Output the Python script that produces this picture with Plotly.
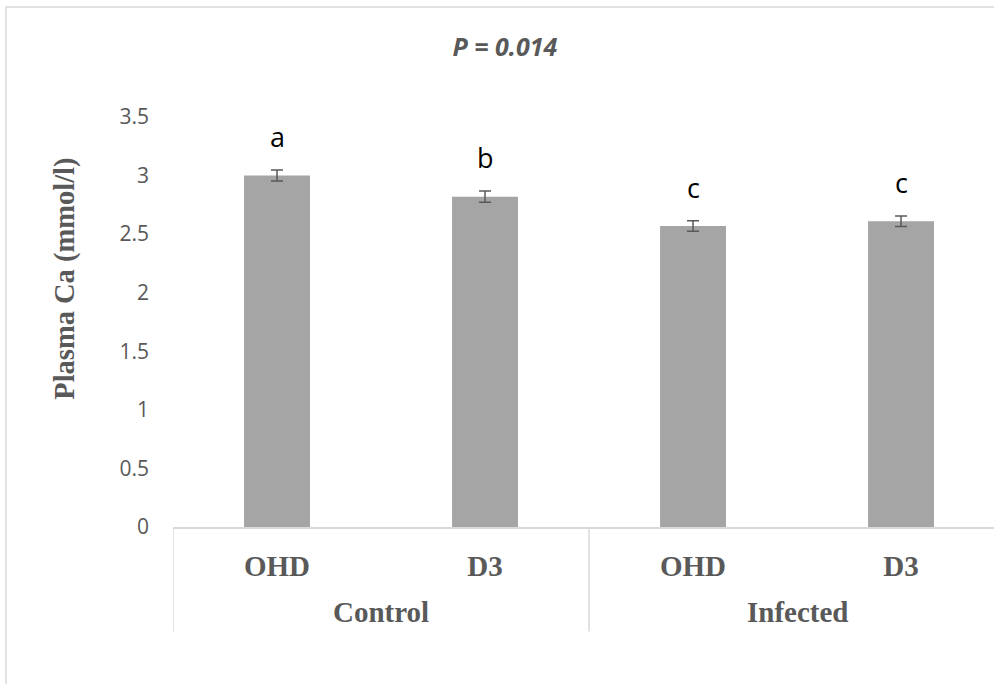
import plotly.graph_objects as go

# Plasma calcium by infection status and vitamin D form
groups = ["Control", "Control", "Infected", "Infected"]
treatments = ["OHD", "D3", "OHD", "D3"]
plasma_ca = [3.00, 2.82, 2.57, 2.61]
sem = [0.047, 0.048, 0.045, 0.044]
letters = ["a", "b", "c", "c"]
y_ticks = [0, 0.5, 1, 1.5, 2, 2.5, 3, 3.5]
y_tick_labels = ["0", "0.5", "1", "1.5", "2", "2.5", "3", "3.5"]
title_text = "P = 0.014"
y_title = "Plasma Ca (mmol/l)"

GREY_TEXT = "#595959"
LINE = "#d9d9d9"
SANS = "Open Sans"
SERIF = "Liberation Serif, Times New Roman, serif"

xpos = list(range(len(treatments)))

fig = go.Figure()
fig.add_trace(go.Bar(
    x=xpos,
    y=plasma_ca,
    width=0.317,
    marker=dict(color="#a5a5a5", line=dict(width=0)),
    error_y=dict(type="data", array=sem, visible=True,
                 color=GREY_TEXT, thickness=1.5, width=6),
    hoverinfo="skip",
))

annotations = []
# significance letters above each error bar
for x, v, e, t in zip(xpos, plasma_ca, sem, letters):
    annotations.append(dict(
        x=x, y=v + e, xref="x", yref="y", text=t, showarrow=False,
        yanchor="bottom", yshift=13,
        font=dict(family=SANS, size=27, color="#000000"),
    ))

# group labels under the treatment labels, and divider positions
unique_groups = []
for g in groups:
    if g not in unique_groups:
        unique_groups.append(g)
boundaries = [-0.5]
for g in unique_groups:
    idx = [i for i, gg in enumerate(groups) if gg == g]
    annotations.append(dict(
        x=sum(idx) / len(idx), y=-0.208, xref="x", yref="paper", text=g,
        showarrow=False, yanchor="middle",
        font=dict(family=SERIF, size=29, color=GREY_TEXT, weight="bold"),
    ))
    boundaries.append(idx[-1] + 0.5)

# rotated y-axis title
annotations.append(dict(
    x=-0.131, y=0.6066, xref="paper", yref="paper", text=y_title,
    textangle=-90, showarrow=False, xanchor="center", yanchor="middle",
    font=dict(family=SERIF, size=28.5, color=GREY_TEXT, weight="bold"),
))

shapes = []
for b in boundaries:
    shapes.append(dict(type="line", xref="x", yref="paper",
                       x0=b, x1=b, y0=0, y1=-0.2546,
                       line=dict(color=LINE, width=1.5)))
# chart frame
shapes.append(dict(type="rect", xref="paper", yref="paper",
                   x0=-0.2034, x1=1.05, y0=-0.5, y1=1.268,
                   line=dict(color=LINE, width=1.5), fillcolor="rgba(0,0,0,0)",
                   layer="below"))

fig.update_layout(
    width=994, height=684,
    margin=dict(l=173, r=0, t=117, b=156.5),
    paper_bgcolor="white", plot_bgcolor="white",
    showlegend=False,
    title=dict(text=title_text, x=0.508, xanchor="center", y=1 - 47 / 684,
               yanchor="middle", yref="container",
               font=dict(family=SANS, size=25, color=GREY_TEXT,
                         weight="bold", style="italic")),
    xaxis=dict(
        range=[-0.5, 3.447],
        tickvals=xpos, ticktext=treatments,
        showgrid=False, zeroline=False,
        showline=True, linecolor=LINE, linewidth=1.5,
        ticks="", ticklabelstandoff=12,
        tickfont=dict(family=SERIF, size=29, color=GREY_TEXT, weight="bold"),
    ),
    yaxis=dict(
        range=[0, 3.5],
        tickvals=y_ticks, ticktext=y_tick_labels,
        showgrid=False, zeroline=False, showline=False,
        ticks="", ticklabelstandoff=23,
        tickfont=dict(family=SANS, size=21, color=GREY_TEXT),
    ),
    annotations=annotations,
    shapes=shapes,
)

fig.write_html("out.html")
